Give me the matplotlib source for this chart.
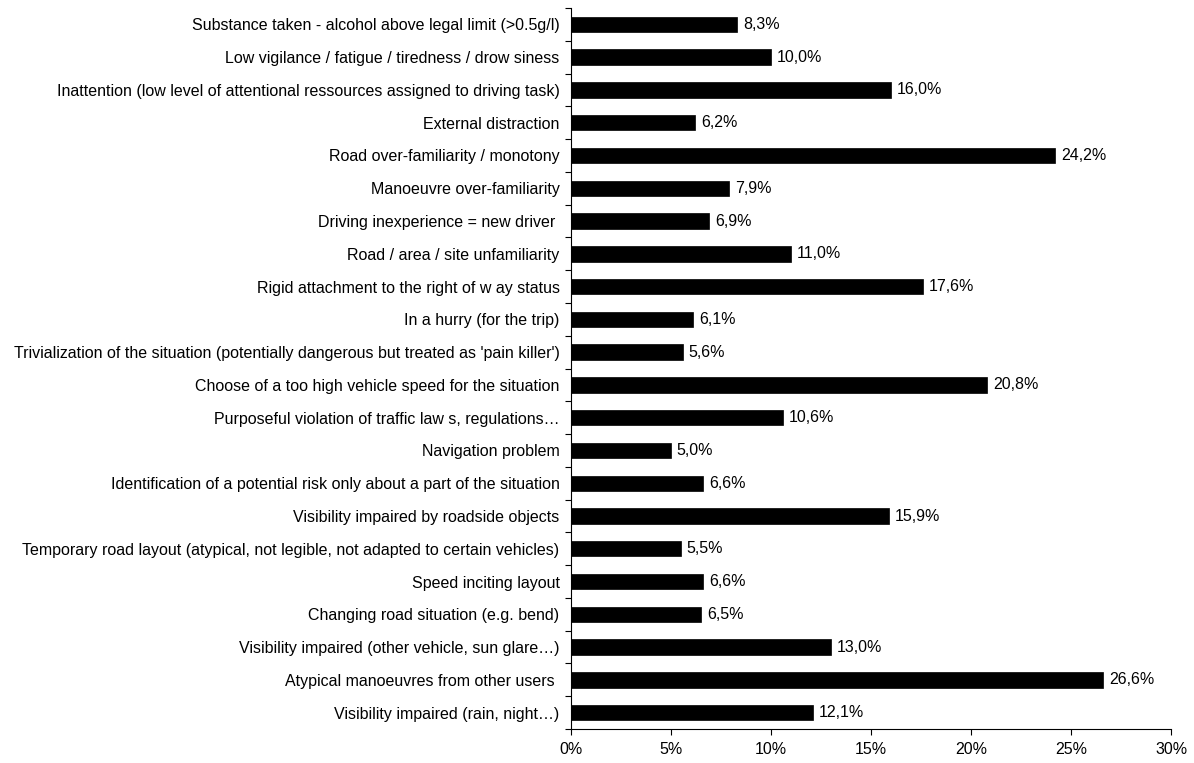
import numpy as np
import matplotlib.pyplot as plt

plt.rcParams['font.family'] = ['Liberation Sans', 'DejaVu Sans']

# categories listed from top to bottom as in the chart
labels = [
    "Substance taken - alcohol above legal limit (>0.5g/l)",
    "Low vigilance / fatigue / tiredness / drow siness",
    "Inattention (low level of attentional ressources assigned to driving task)",
    "External distraction",
    "Road over-familiarity / monotony",
    "Manoeuvre over-familiarity",
    "Driving inexperience = new driver ",
    "Road / area / site unfamiliarity",
    "Rigid attachment to the right of w ay status",
    "In a hurry (for the trip)",
    "Trivialization of the situation (potentially dangerous but treated as 'pain killer')",
    "Choose of a too high vehicle speed for the situation",
    "Purposeful violation of traffic law s, regulations\u2026",
    "Navigation problem",
    "Identification of a potential risk only about a part of the situation",
    "Visibility impaired by roadside objects",
    "Temporary road layout (atypical, not legible, not adapted to certain vehicles)",
    "Speed inciting layout",
    "Changing road situation (e.g. bend)",
    "Visibility impaired (other vehicle, sun glare\u2026)",
    "Atypical manoeuvres from other users ",
    "Visibility impaired (rain, night\u2026)",
]
values = [8.3, 10.0, 16.0, 6.2, 24.2, 7.9, 6.9, 11.0, 17.6, 6.1, 5.6,
          20.8, 10.6, 5.0, 6.6, 15.9, 5.5, 6.6, 6.5, 13.0, 26.6, 12.1]
xticks = [0, 5, 10, 15, 20, 25, 30]

fs = 11.5

fig = plt.figure(figsize=(11.94, 7.63), dpi=100)
ax = fig.add_axes([0.478, 0.0445, 0.503, 0.945])

n = len(labels)
y = np.arange(n)[::-1]
ax.barh(y, values, height=0.47, color='black', edgecolor='black', linewidth=0.5)

for yi, v in zip(y, values):
    ax.text(v + 0.3, yi, '{:.1f}%'.format(v).replace('.', ','), va='center',
            ha='left', fontsize=fs)

ax.set_xlim(0, 30)
ax.set_ylim(-0.5, n - 0.5)
ax.set_xticks(xticks)
ax.set_xticklabels(['{}%'.format(t) for t in xticks], fontsize=fs)

# category labels centred on bars, tick marks on the boundaries
ax.set_yticks(y)
ax.set_yticklabels(labels, fontsize=fs)
ax.tick_params(axis='y', length=0, pad=8)
ax.set_yticks(np.arange(n + 1) - 0.5, minor=True)
ax.tick_params(axis='y', which='minor', length=4, width=0.8)
ax.tick_params(axis='x', length=4, width=0.8, pad=5)

for s in ['top', 'right']:
    ax.spines[s].set_visible(False)
for s in ['left', 'bottom']:
    ax.spines[s].set_linewidth(0.8)

plt.savefig('out.png', dpi=100)
